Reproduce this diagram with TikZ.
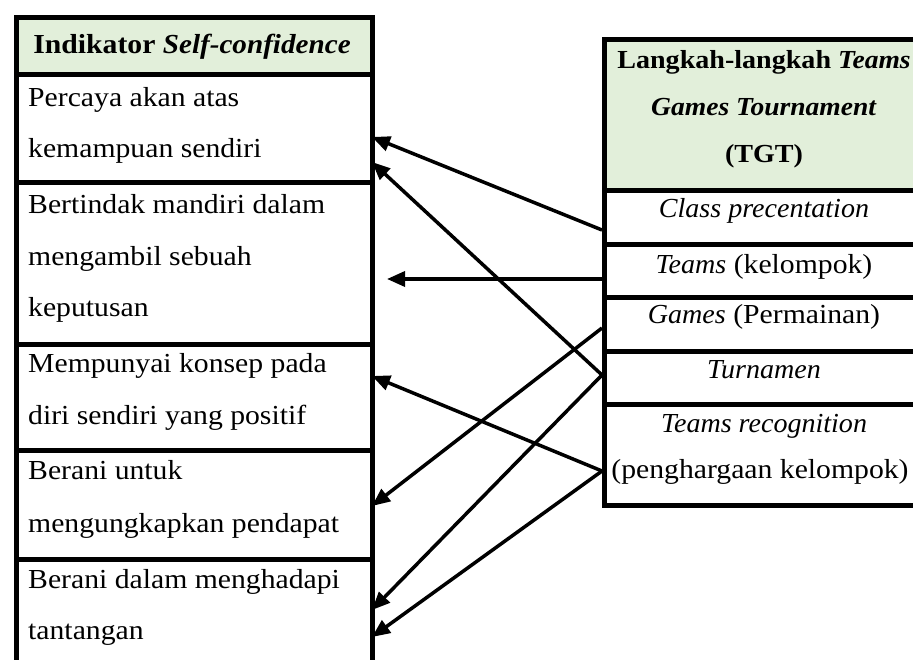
\documentclass[tikz,border=0pt]{standalone}
\usepackage{fontspec}
\setmainfont{Liberation Serif}[FakeStretch=1.08, ItalicFeatures={FakeStretch=1.02}, BoldItalicFeatures={FakeStretch=1.06}]
\usetikzlibrary{arrows.meta}
\definecolor{hdrgreen}{HTML}{E2EFDA}
\begin{document}
\begin{tikzpicture}[x=1pt,y=-1pt,
  cellbox/.style={draw=black, line width=4.5pt, inner sep=0pt, anchor=north west},
  hdrbox/.style={cellbox, fill=hdrgreen},
  ltxt/.style={anchor=base west, inner sep=0pt, font=\fontsize{27.5}{33}\selectfont},
  ctxt/.style={anchor=base, inner sep=0pt, font=\fontsize{27.5}{33}\selectfont},
  htxt/.style={anchor=base, inner sep=0pt, font=\fontsize{26}{31}\selectfont\bfseries},
  arr/.style={draw=black, line width=3.5pt, -{Triangle[length=18pt,width=15pt]}}]
\useasboundingbox (0,0) rectangle (913,659);

% left table
\node[hdrbox, minimum width=356pt, minimum height=57pt] (lh) at (14,15) {};
\node[cellbox, minimum width=356pt, minimum height=108pt] (l1) at (14,72) {};
\node[cellbox, minimum width=356pt, minimum height=162pt] (l2) at (14,180) {};
\node[cellbox, minimum width=356pt, minimum height=106pt] (l3) at (14,342) {};
\node[cellbox, minimum width=356pt, minimum height=109pt] (l4) at (14,448) {};
\node[cellbox, minimum width=356pt, minimum height=106pt] (l5) at (14,557) {};

\node[ctxt] (lht) at (192,53) {\textbf{Indikator \textit{Self-confidence}}};
\node[ltxt] (t1a) at (28,106) {Percaya akan atas};
\node[ltxt] (t1b) at (28,157) {kemampuan sendiri};
\node[ltxt] (t2a) at (28,213) {Bertindak mandiri dalam};
\node[ltxt] (t2b) at (28,265) {mengambil sebuah};
\node[ltxt] (t2c) at (28,316) {keputusan};
\node[ltxt] (t3a) at (28,372) {Mempunyai konsep pada};
\node[ltxt] (t3b) at (28,424) {diri sendiri yang positif};
\node[ltxt] (t4a) at (28,479) {Berani untuk};
\node[ltxt] (t4b) at (28,532) {mengungkapkan pendapat};
\node[ltxt] (t5a) at (28,588) {Berani dalam menghadapi};
\node[ltxt] (t5b) at (28,639) {tantangan};

% right table
\node[hdrbox, minimum width=323pt, minimum height=151pt] (rh) at (602,37) {};
\node[cellbox, minimum width=323pt, minimum height=54pt] (rc) at (602,188) {};
\node[cellbox, minimum width=323pt, minimum height=53pt] (rt) at (602,242) {};
\node[cellbox, minimum width=323pt, minimum height=54pt] (rg) at (602,295) {};
\node[cellbox, minimum width=323pt, minimum height=53pt] (rn) at (602,349) {};
\node[cellbox, minimum width=323pt, minimum height=101pt] (rr) at (602,402) {};

\node[htxt] (rh1) at (764,68) {Langkah-langkah \textit{Teams}};
\node[htxt] (rh2) at (764,115) {\textit{Games Tournament}};
\node[htxt] (rh3) at (764,162) {(TGT)};
\node[ctxt] (rct) at (764,217) {\textit{Class precentation}};
\node[ctxt] (rtt) at (764,273) {\textit{Teams} (kelompok)};
\node[ctxt] (rgt) at (764,323) {\textit{Games} (Permainan)};
\node[ctxt] (rnt) at (764,378) {\textit{Turnamen}};
\node[ctxt] (rrt1) at (764,432) {\textit{Teams recognition}};
\node[ctxt] (rrt2) at (760,478) {(penghargaan kelompok)};

% connector end points
\coordinate (s1) at (602,230);
\coordinate (s2) at (602,279);
\coordinate (s3) at (602,328);
\coordinate (s4) at (602,375);
\coordinate (s5) at (602,471);
\coordinate (e1) at (372,137);
\coordinate (e2) at (372,162);
\coordinate (e3) at (387,279);
\coordinate (e4) at (372,506);
\coordinate (e5) at (372,376);
\coordinate (e6) at (372,610);
\coordinate (e7) at (372,637);

\draw[arr] (s1) -- (e1);
\draw[arr] (s4) -- (e2);
\draw[arr] (s2) -- (e3);
\draw[arr] (s3) -- (e4);
\draw[arr] (s5) -- (e5);
\draw[arr] (s4) -- (e6);
\draw[arr] (s5) -- (e7);
\end{tikzpicture}
\end{document}
